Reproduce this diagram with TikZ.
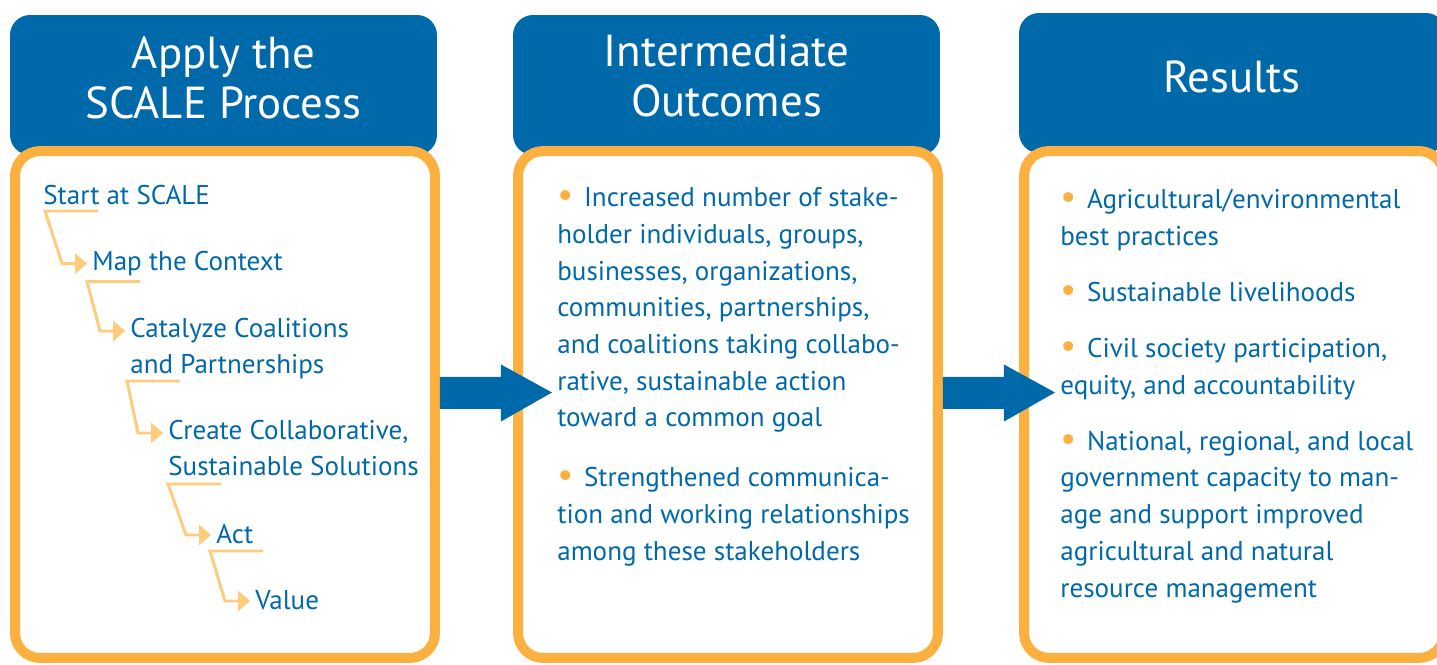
\documentclass[tikz,border=0pt]{standalone}
\usepackage{fontspec}
\setmainfont{PT Sans}
\usepackage{xcolor}
\usepackage{graphicx}
\usetikzlibrary{arrows.meta,positioning,calc}

\definecolor{scaleblue}{HTML}{0069AA}
\definecolor{scaleorange}{HTML}{FBB040}
\definecolor{steporange}{HTML}{FFCB7D}

\newcommand{\dotitem}{{\color{scaleorange}\scalebox{1.3}{\textbullet}}\hspace{0.4em}}

\begin{document}
\begin{tikzpicture}[
    x=0.02cm, y=-0.02cm,
    header/.style={fill=scaleblue, rounded corners=0.4cm, minimum width=8.54cm, minimum height=2.8cm, inner sep=0pt},
    headtext/.style={text=white, align=center, font=\fontsize{25.5}{29}\selectfont, anchor=base, inner sep=0pt},
    panel/.style={draw=scaleorange, fill=white, line width=0.2cm, rounded corners=0.5cm, minimum width=8.4cm, minimum height=10.14cm, inner sep=0pt},
    bodytext/.style={text=scaleblue, align=left, font=\fontsize{15.4}{20.9}\selectfont, anchor=base west, inner sep=0pt},
    steptext/.style={bodytext},
    stepline/.style={draw=steporange, line width=1.7pt, -{Triangle[length=6.8pt, width=11.4pt]}},
    bigarrow/.style={fill=scaleblue}
]

\useasboundingbox (0,0) rectangle (1437,665);
\clip (0,0) rectangle (1437,665);

% Column headers
\node[header] (applyhead) at (223.5,85) {};
\node[header] (outcomehead) at (726.5,85) {};
\node[header] (resulthead) at (1232.5,83) {};

% Column panels
\node[panel] (applybox) at (225,404.5) {};
\node[panel] (outcomebox) at (728,404.5) {};
\node[panel] (resultbox) at (1234,404.5) {};

% Header titles (placed at the baseline of their last line)
\node[headtext] (applytitle) at (223.5,119) {Apply the\\SCALE Process};
\node[headtext] (outcometitle) at (726.5,117) {Intermediate\\Outcomes};
\node[headtext] (resulttitle) at (1232,93) {Results};

% SCALE steps
\node[steptext] (start) at (43,205) {Start at SCALE};
\node[steptext] (map) at (92,270.5) {Map the Context};
\node[steptext] (catalyze) at (130,374) {Catalyze Coalitions\\and Partnerships};
\node[steptext] (create) at (168,476) {Create Collaborative,\\Sustainable Solutions};
\node[steptext] (act) at (216,543) {Act};
\node[steptext] (value) at (255,609) {Value};

% Step connectors
\draw[stepline] ($(start.base west)+(55,6)$) -- ++(-53,0) -- ($(map.base west)+(-30,-7)$) -- ($(map.base west)+(-5,-7)$);
\draw[stepline] ($(map.base west)+(48,11)$) -- ++(-53,0) -- ($(catalyze.base west)+(-30,-43)$) -- ($(catalyze.base west)+(-5,-43)$);
\draw[stepline] ($(catalyze.base west)+(50,7)$) -- ++(-53,0) -- ($(create.base west)+(-30,-43)$) -- ($(create.base west)+(-5,-43)$);
\draw[stepline] ($(create.base west)+(53,8)$) -- ++(-53,0) -- ($(act.base west)+(-30,-8)$) -- ($(act.base west)+(-5,-8)$);
\draw[stepline] ($(act.base west)+(47,8)$) -- ++(-53,0) -- ($(value.base west)+(-30,-8)$) -- ($(value.base west)+(-5,-8)$);

% Outcomes
\node[bodytext] (outcomes) at (557,560) {\dotitem Increased number of stake-\\holder individuals, groups,\\businesses, organizations,\\communities, partnerships,\\and coalitions taking collabo-\\rative, sustainable action\\toward a common goal\\[13pt]\dotitem Strengthened communica-\\tion and working relationships\\among these stakeholders};

% Results
\node[bodytext] (results) at (1060,597) {\dotitem Agricultural/environmental\\best practices\\[11pt]\dotitem Sustainable livelihoods\\[11pt]\dotitem Civil society participation,\\equity, and accountability\\[11pt]\dotitem National, regional, and local\\government capacity to man-\\age and support improved\\agricultural and natural\\resource management};

% Block arrows between columns
\fill[bigarrow] (applybox.east) ++(0,-27.5) -- ++(61,0) -- ++(0,-12.5) -- ++(51,28) -- ++(-51,29) -- ++(0,-12.5) -- ++(-61,0) -- cycle;
\fill[bigarrow] (outcomebox.east) ++(0,-27.5) -- ++(61,0) -- ++(0,-12.5) -- ++(51,28) -- ++(-51,29) -- ++(0,-12.5) -- ++(-61,0) -- cycle;

\end{tikzpicture}
\end{document}
